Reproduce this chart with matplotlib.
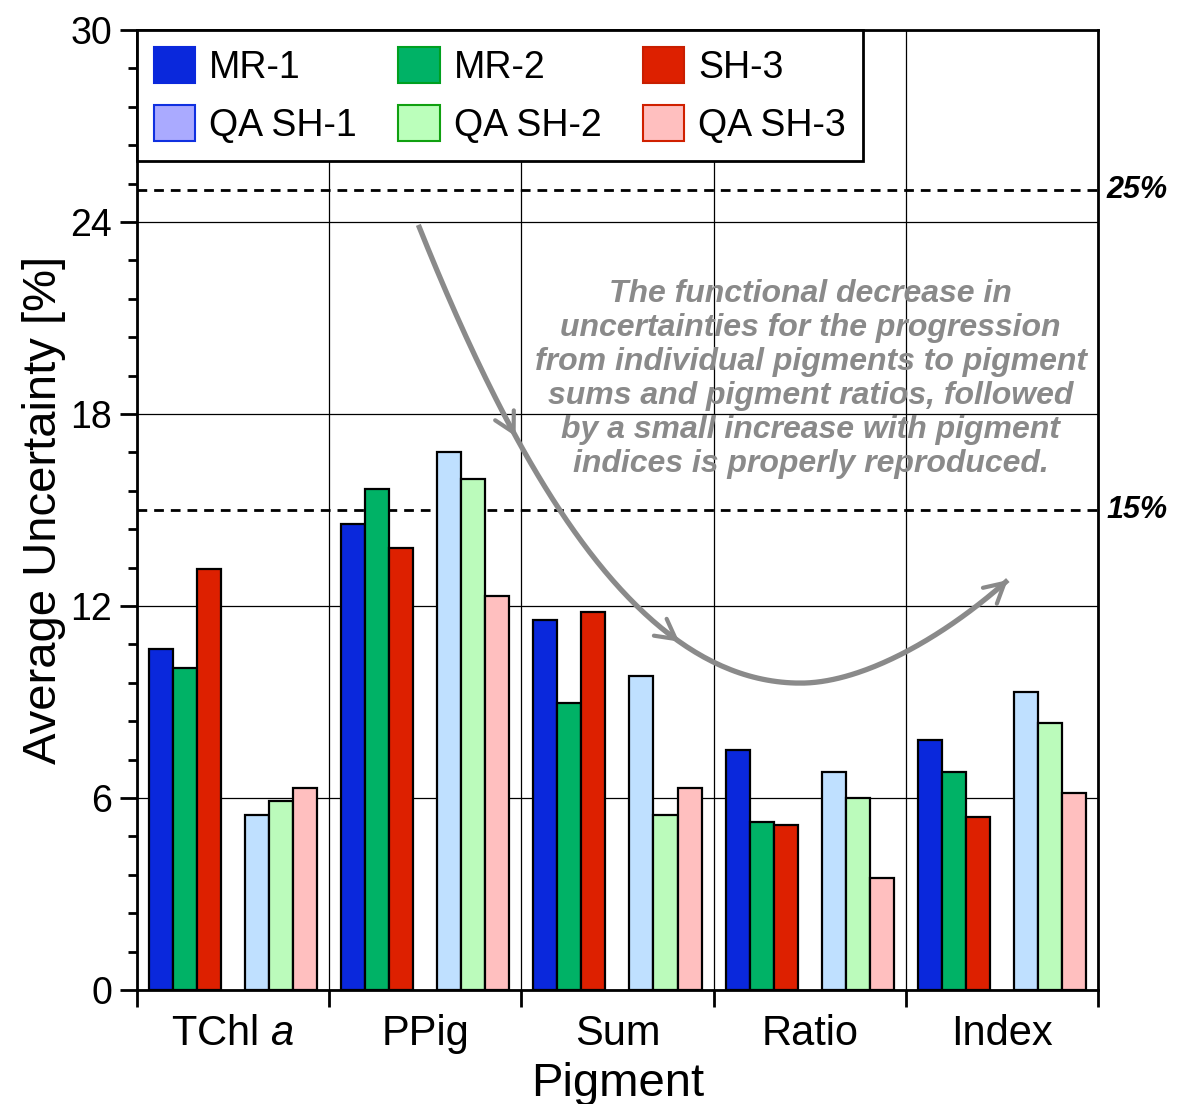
import numpy as np
import matplotlib
matplotlib.use("Agg")
import matplotlib.pyplot as plt
from matplotlib.patches import Patch

plt.rcParams['font.family'] = ['Liberation Sans', 'DejaVu Sans']
plt.rcParams['mathtext.fontset'] = 'custom'
plt.rcParams['mathtext.it'] = 'Liberation Sans:italic'
plt.rcParams['mathtext.rm'] = 'Liberation Sans'

# data
categories = ["TChl $a$", "PPig", "Sum", "Ratio", "Index"]
series = ["MR-1", "MR-2", "SH-3", "QA SH-1", "QA SH-2", "QA SH-3"]
mr1 = [10.66, 14.56, 11.56, 7.50, 7.81]
mr2 = [10.06, 15.66, 8.97, 5.25, 6.81]
sh3 = [13.16, 13.81, 11.81, 5.16, 5.41]
qa_sh1 = [5.47, 16.81, 9.81, 6.81, 9.31]
qa_sh2 = [5.90, 15.97, 5.47, 6.00, 8.34]
qa_sh3 = [6.31, 12.31, 6.31, 3.50, 6.16]
thresholds = [25, 15]

bar_colors = ["#0a28dc", "#00b266", "#dd2000", "#bfe0ff", "#bbfbbb", "#ffbfbf"]
leg_faces = ["#0a28dc", "#00b266", "#dd2000", "#aaaaff", "#bbffbb", "#ffbfbf"]
leg_edges = ["#0a28dc", "#00a020", "#c81e00", "#1030e0", "#10a010", "#d02000"]

fig = plt.figure(figsize=(11.88, 11.04), dpi=100)
ax = fig.add_axes([0.1153, 0.1033, 0.8089, 0.8695])

x = np.arange(len(categories))
w = 0.125
offsets = [0.0625, 0.1875, 0.3125, 0.5625, 0.6875, 0.8125]
all_vals = [mr1, mr2, sh3, qa_sh1, qa_sh2, qa_sh3]
for vals, off, c in zip(all_vals, offsets, bar_colors):
    ax.bar(x + off, vals, width=w, align='edge', color=c,
           edgecolor='black', linewidth=1.6, zorder=3)

# threshold lines
for t in thresholds:
    ax.axhline(t, color='black', ls=(0, (3.5, 2.5)), lw=2.0, zorder=2)
    ax.text(1.009, t, "%d%%" % t, transform=ax.get_yaxis_transform(),
            ha='left', va='center', fontsize=22, fontweight='bold',
            fontstyle='italic')

ax.set_xlim(0, len(categories))
ax.set_ylim(0, 30)
ax.set_xticks(np.arange(len(categories) + 1))
ax.set_xticklabels([])
ax.set_xticks(x + 0.5, minor=True)
ax.set_xticklabels(categories, minor=True, fontsize=30)
ax.set_yticks(np.arange(0, 31, 6))
ax.set_yticks(np.arange(0, 30.1, 1.2), minor=True)
ax.tick_params(axis='y', which='major', labelsize=27, length=12, width=2, direction='out', pad=6)
ax.tick_params(axis='y', which='minor', length=6.5, width=2, direction='out')
ax.tick_params(axis='x', which='major', length=12, width=2, direction='out')
ax.tick_params(axis='x', which='minor', length=0, pad=17)
ax.grid(True, which='major', color='black', lw=0.9, zorder=1)
ax.set_axisbelow(True)
for s in ax.spines.values():
    s.set_linewidth(2)

ax.set_xlabel("Pigment", fontsize=34, labelpad=6)
ax.set_ylabel("Average Uncertainty [%]", fontsize=34, labelpad=3)

# legend
handles = [Patch(facecolor=f, edgecolor=e, linewidth=1.5, label=l)
           for f, e, l in zip(leg_faces, leg_edges, series)]
order = [0, 3, 1, 4, 2, 5]
leg = ax.legend([handles[i] for i in order], [series[i] for i in order],
                ncol=3, loc='upper left', fontsize=27, frameon=True,
                fancybox=False, borderaxespad=0, handlelength=1.1,
                handleheight=1.1, handletextpad=0.38, columnspacing=1.1,
                labelspacing=0.52, borderpad=0.45)
leg.get_frame().set_edgecolor('black')
leg.get_frame().set_linewidth(2)
leg.get_frame().set_alpha(1)
leg.set_zorder(5)

# curved gray arrow
def bez(p, t):
    t = np.asarray(t)[:, None]
    p = np.asarray(p)
    return ((1 - t) ** 3) * p[0] + 3 * ((1 - t) ** 2) * t * p[1] + \
        3 * (1 - t) * t ** 2 * p[2] + t ** 3 * p[3]

seg1 = [(1.464, 23.91), (1.995, 15.94), (2.620, 9.59), (3.453, 9.59)]
seg2 = [(3.453, 9.59), (3.766, 9.59), (4.182, 10.94), (4.531, 12.81)]
tt = np.linspace(0, 1, 100)
c1 = bez(seg1, tt)
c2 = bez(seg2, tt)
curve = np.vstack([c1, c2])
gray = "#8a8a8a"
ax.plot(curve[:, 0], curve[:, 1], color=gray, lw=3.8, zorder=4,
        solid_capstyle='butt')
heads = [(seg1, 0.30), (seg1, 0.73), (seg2, 1.0)]
for seg, t in heads:
    tip = bez(seg, [t])[0]
    back = bez(seg, [t - 0.04])[0]
    ax.annotate("", xy=tip, xytext=back,
                arrowprops=dict(arrowstyle="->,head_length=0.7,head_width=0.38",
                                color=gray, lw=3, mutation_scale=20,
                                shrinkA=0, shrinkB=0), zorder=4)

ax.text(3.505, 19.1,
        "The functional decrease in\nuncertainties for the progression\n"
        "from individual pigments to pigment\nsums and pigment ratios, followed\n"
        "by a small increase with pigment\nindices is properly reproduced.",
        ha='center', va='center', fontsize=23, fontweight='bold',
        fontstyle='italic', color=gray, linespacing=1.17, zorder=6)

fig.savefig("out.png", dpi=100)
